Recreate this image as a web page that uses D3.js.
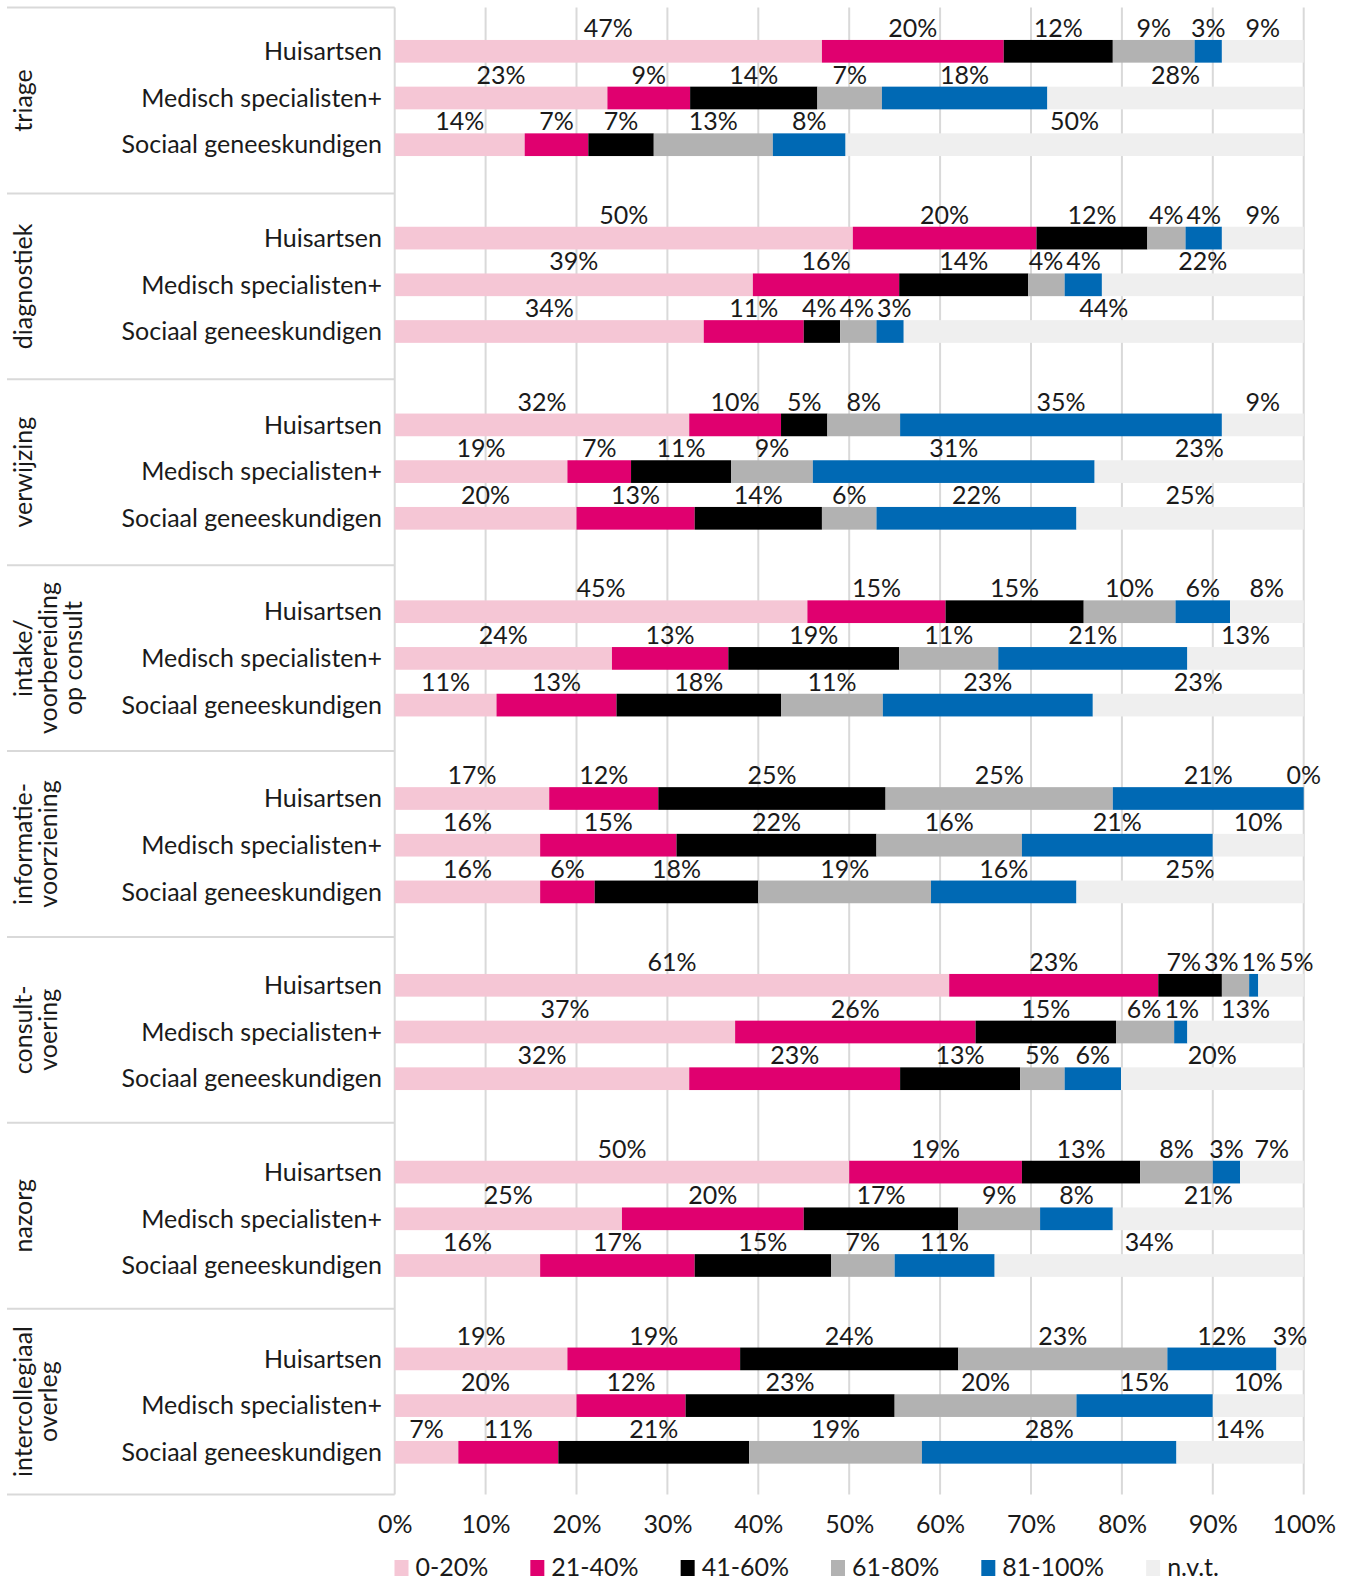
<!DOCTYPE html>
<html>
<head>
<meta charset="utf-8">
<script src="https://cdn.jsdelivr.net/npm/d3@7"></script>
<style>
  html, body { margin: 0; padding: 0; background: #fff; }
  svg { display: block; font-family: Lato, "Noto Sans", sans-serif; }
</style>
</head>
<body>
<svg id="chart" width="1348" height="1582"></svg>
<script>
// Process steps (rotated group labels, one entry per line)
const groupLabels = [
  ["triage"],
  ["diagnostiek"],
  ["verwijzing"],
  ["intake/", "voorbereiding", "op consult"],
  ["informatie-", "voorziening"],
  ["consult-", "voering"],
  ["nazorg"],
  ["intercollegiaal", "overleg"]
];

// Respondent groups, repeated within every process step
const respondents = ["Huisartsen", "Medisch specialisten+", "Sociaal geneeskundigen"];

// Answer categories (stack order, left to right)
const seriesNames = ["0-20%", "21-40%", "41-60%", "61-80%", "81-100%", "n.v.t."];

// Share of respondents per answer category, in %.
// Order: per process step Huisartsen, Medisch specialisten+, Sociaal geneeskundigen.
const share0to20 = [
  47, 23.4, 14.3,
  50.4, 39.4, 34,
  32.4, 19, 20,
  45.4, 23.9, 11.2,
  17, 16, 16,
  61, 37.45, 32.4,
  50, 25, 16,
  19, 20, 7
];
const share21to40 = [
  20, 9.1, 7.0,
  20.2, 16.1, 11,
  10.1, 7, 13,
  15.2, 12.8, 13.2,
  12, 15, 6,
  23, 26.45, 23.2,
  19, 20, 17,
  19, 12, 11
];
const share41to60 = [
  12, 14.0, 7.2,
  12.2, 14.2, 4,
  5.1, 11, 14,
  15.2, 18.8, 18.1,
  25, 22, 18,
  7, 15.45, 13.2,
  13, 17, 15,
  24, 23, 21
];
const share61to80 = [
  9, 7.1, 13.1,
  4.2, 4.0, 4,
  8.0, 9, 6,
  10.1, 10.9, 11.2,
  25, 16, 19,
  3, 6.4, 4.9,
  8, 9, 7,
  23, 20, 19
];
const share81to100 = [
  3, 18.2, 8.0,
  4.0, 4.1, 3,
  35.4, 31, 22,
  6.0, 20.8, 23.1,
  21, 21, 16,
  1, 1.45, 6.2,
  3, 8, 11,
  12, 15, 28
];
const shareNvt = [
  9, 28.2, 50.4,
  9.0, 22.2, 44,
  9.0, 23, 25,
  8.1, 12.8, 23.2,
  0, 10, 25,
  5, 12.8, 20.1,
  7, 21, 34,
  3, 10, 14
];

// Axis tick values (percent)
const xTickValues = [0, 10, 20, 30, 40, 50, 60, 70, 80, 90, 100];

const seriesColors = ["#f5c6d5", "#e0006f", "#000000", "#b2b2b2", "#0069b4", "#efefef"];
const textColor = "#1a1a1a";
const gridColor = "#d9d9d9";

// Build one row object per bar
const seriesData = [share0to20, share21to40, share41to60, share61to80, share81to100, shareNvt];
const rows = [];
groupLabels.forEach((g, gi) => {
  respondents.forEach((r, ri) => {
    const i = gi * 3 + ri;
    const row = { key: gi + "|" + ri, group: gi, resp: r };
    seriesNames.forEach((s, si) => { row[s] = seriesData[si][i]; });
    rows.push(row);
  });
});

// Category slots: three bars plus one empty slot per process step
const slotKeys = [];
groupLabels.forEach((g, gi) => { for (let k = 0; k < 4; k++) slotKeys.push(gi + "|" + k); });

const svg = d3.select("#chart");

const plotLeft = 394.7, plotRight = 1303.7;
const plotTop = 7.5, plotBottom = 1494.5;

const x = d3.scaleLinear().domain([0, 100]).range([plotLeft, plotRight]);
const y = d3.scaleBand()
  .domain(slotKeys)
  .range([27.95, 27.95 + 32 * 46.7])
  .paddingInner(0.514)
  .paddingOuter(0.257);
const yGroup = d3.scaleLinear().domain([0, groupLabels.length]).range([plotTop, plotBottom]);
const color = d3.scaleOrdinal().domain(seriesNames).range(seriesColors);

// Vertical gridlines (the 0% line doubles as category axis)
svg.append("g")
  .selectAll("line")
  .data(xTickValues)
  .join("line")
  .attr("x1", d => x(d)).attr("x2", d => x(d))
  .attr("y1", plotTop).attr("y2", plotBottom)
  .attr("stroke", gridColor)
  .attr("stroke-width", 2);

// Separators between process steps in the label area
svg.append("g")
  .selectAll("line")
  .data(d3.range(groupLabels.length + 1))
  .join("line")
  .attr("x1", 7).attr("x2", plotLeft)
  .attr("y1", d => yGroup(d)).attr("y2", d => yGroup(d))
  .attr("stroke", gridColor)
  .attr("stroke-width", 2);

// Stacked bars
const stacked = d3.stack().keys(seriesNames)(rows);

const layers = svg.append("g")
  .selectAll("g")
  .data(stacked)
  .join("g")
  .attr("fill", d => color(d.key));

layers.selectAll("rect")
  .data(d => d)
  .join("rect")
  .attr("x", d => x(d[0]))
  .attr("width", d => x(d[1]) - x(d[0]))
  .attr("y", d => y(d.data.key))
  .attr("height", y.bandwidth());

// Value labels above each segment, centred on the segment
const labelLayer = svg.append("g")
  .attr("font-size", 25)
  .attr("fill", textColor)
  .attr("text-anchor", "middle");

const labelItems = [];
stacked.forEach(s => {
  s.forEach(d => {
    const cx = x((d[0] + d[1]) / 2);
    const node = labelLayer.append("text")
      .attr("x", cx)
      .attr("y", y(d.data.key) - 3)
      .text(Math.round(d.data[s.key]) + "%");
    labelItems.push({ row: d.data.key, cx, w: node.node().getComputedTextLength(), node });
  });
});

// Spread labels apart within a row where narrow segments make them collide
const labelGap = 3;
d3.groups(labelItems, d => d.row).forEach(([, items]) => {
  items.sort((a, b) => a.cx - b.cx);
  let clusters = items.map(it => ({ items: [it] }));
  const place = c => {
    const span = d3.sum(c.items, it => it.w) + labelGap * (c.items.length - 1);
    const mid = d3.mean(c.items, it => it.cx);
    c.left = mid - span / 2;
    c.right = mid + span / 2;
  };
  clusters.forEach(place);
  let merged = true;
  while (merged) {
    merged = false;
    for (let i = 0; i < clusters.length - 1; i++) {
      if (clusters[i].right + labelGap > clusters[i + 1].left) {
        clusters[i].items = clusters[i].items.concat(clusters[i + 1].items);
        clusters.splice(i + 1, 1);
        place(clusters[i]);
        merged = true;
        break;
      }
    }
  }
  clusters.forEach(c => {
    if (c.items.length < 2) return;
    let pos = c.left;
    c.items.forEach(it => {
      it.node.attr("x", pos + it.w / 2);
      pos += it.w + labelGap;
    });
  });
});

// Respondent labels
svg.append("g")
  .attr("font-size", 25)
  .attr("fill", textColor)
  .attr("text-anchor", "end")
  .selectAll("text")
  .data(rows)
  .join("text")
  .attr("x", 382)
  .attr("y", d => y(d.key) + y.bandwidth() / 2)
  .attr("dy", "0.35em")
  .text(d => d.resp);

// Process step labels, rotated
const groupG = svg.append("g")
  .attr("font-size", 25)
  .attr("fill", textColor)
  .attr("text-anchor", "middle");

groupLabels.forEach((lines, gi) => {
  const cy = yGroup(gi + 0.5);
  lines.forEach((line, li) => {
    groupG.append("text")
      .attr("transform", `translate(${32 + 25 * li},${cy}) rotate(-90)`)
      .text(line);
  });
});

// Percentage axis
const xAxis = svg.append("g")
  .attr("transform", `translate(0,${plotBottom})`)
  .call(d3.axisBottom(x).tickValues(xTickValues).tickFormat(d => d + "%").tickSize(0).tickPadding(21));
xAxis.select(".domain").remove();
xAxis.attr("font-family", null).attr("font-size", null);
xAxis.selectAll("text")
  .attr("font-size", 25)
  .attr("fill", textColor);

// Legend
const legend = svg.append("g").attr("font-size", 25).attr("fill", textColor);
let lx = 394.5;
seriesNames.forEach(s => {
  const item = legend.append("g").attr("transform", `translate(${lx},1560)`);
  item.append("rect").attr("width", 14).attr("height", 16).attr("fill", color(s));
  const t = item.append("text").attr("x", 21).attr("y", 16).text(s);
  lx += 21 + t.node().getComputedTextLength() + 42;
});
</script>
</body>
</html>
